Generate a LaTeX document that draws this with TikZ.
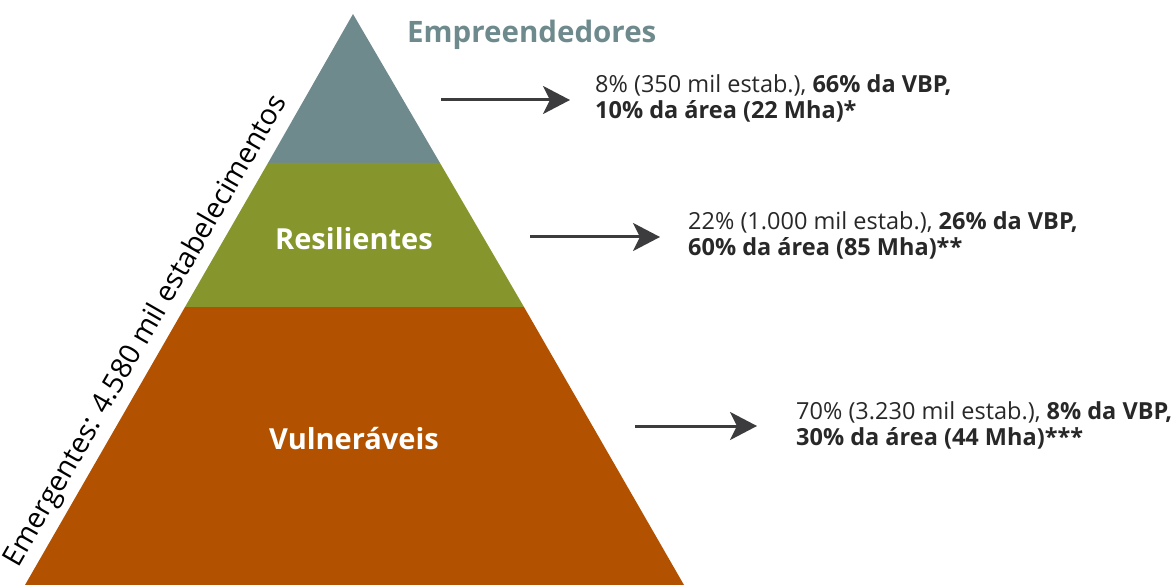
\documentclass[tikz,border=0pt]{standalone}
\usepackage{fontspec}
\setmainfont{Open Sans}
\usetikzlibrary{arrows.meta}
\definecolor{topc}{RGB}{110,138,141}
\definecolor{midc}{RGB}{134,150,44}
\definecolor{botc}{RGB}{178,82,0}
\definecolor{arrc}{RGB}{60,60,62}
\definecolor{txtc}{RGB}{40,40,40}
\tikzset{
  tier/.style={draw=none},
  tierlabel/.style={text=white,font=\fontsize{29}{30}\selectfont\bfseries,inner sep=0pt},
  infotext/.style={text=txtc,font=\fontsize{23.5}{26.5}\selectfont,align=left,anchor=north west,inner sep=0pt},
  pointer/.style={draw=arrc,line width=3pt,-{Stealth[length=27pt,width=28pt,inset=7pt]}}
}
\begin{document}
\begin{tikzpicture}[x=1pt,y=-1pt]
\useasboundingbox (0,0) rectangle (1174,585);
% pyramid corners
\coordinate (apex) at (353,14);
\coordinate (l1) at (268,163);
\coordinate (r1) at (440,163);
\coordinate (l2) at (185,307);
\coordinate (r2) at (524,307);
\coordinate (bl) at (25,585);
\coordinate (br) at (684,585);
\fill[topc,tier] (apex) -- (r1) -- (l1) -- cycle;
\fill[midc,tier] (l1) -- (r1) -- (r2) -- (l2) -- cycle;
\fill[botc,tier] (l2) -- (r2) -- (br) -- (bl) -- cycle;
% labels
\node[text=topc,font=\fontsize{29.5}{32}\selectfont\bfseries,anchor=base west,inner sep=0pt] (emp) at (407,43) {Empreendedores};
\node[tierlabel,anchor=base] (res) at (354,250) {Resilientes};
\node[tierlabel,anchor=base] (vul) at (354,449) {Vulneráveis};
\node[font=\fontsize{28.5}{30}\selectfont,rotate=60.1,anchor=base,inner sep=0pt] (emg) at (153,335) {Emergentes: 4.580 mil estabelecimentos};
% info texts
\node[infotext] (t1) at (595,74) {8\% (350 mil estab.), \textbf{66\% da VBP,}\\\textbf{10\% da área (22 Mha)*}};
\node[infotext] (t2) at (688,211) {22\% (1.000 mil estab.), \textbf{26\% da VBP,}\\\textbf{60\% da área (85 Mha)**}};
\node[infotext] (t3) at (796,401) {70\% (3.230 mil estab.), \textbf{8\% da VBP,}\\\textbf{30\% da área (44 Mha)***}};
% arrows
\coordinate (a1) at (441,100);
\coordinate (a2) at (530,237);
\coordinate (a3) at (635,426);
\draw[pointer,shorten >=25pt] (a1) -- (a1 -| t1.west);
\draw[pointer,shorten >=28pt] (a2) -- (a2 -| t2.west);
\draw[pointer,shorten >=39pt] (a3) -- (a3 -| t3.west);
\end{tikzpicture}
\end{document}
